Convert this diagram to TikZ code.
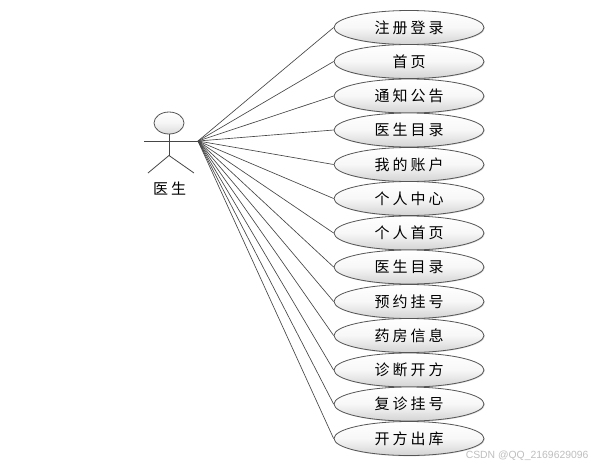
\documentclass[tikz,border=0pt]{standalone}
\usepackage{fontspec}
\usetikzlibrary{shapes.geometric,shadows}
\newfontfamily\cjk[LetterSpace=20]{Noto Sans CJK SC}
\newfontfamily\cjkplain{Noto Sans CJK SC}
\newfontfamily\wmfont{Liberation Sans}
\definecolor{edgegray}{RGB}{85,85,85}
\definecolor{inkline}{RGB}{70,70,70}
\tikzset{
  usecase/.style={ellipse,draw=edgegray,line width=0.8pt,minimum width=150pt,minimum height=34pt,inner sep=0pt,
    top color=white,bottom color=black!17,middle color=black!3,
    drop shadow={shadow xshift=0.8pt,shadow yshift=-0.8pt,fill=black!30,opacity=0.45},
    font=\cjk\fontsize{15}{15}\selectfont},
  actorhead/.style={ellipse,draw=edgegray,line width=0.8pt,minimum width=30pt,minimum height=22pt,inner sep=0pt,
    top color=white,bottom color=black!14,middle color=black!4},
  link/.style={draw=inkline,line width=0.65pt},
  actorline/.style={draw=inkline,line width=0.8pt},
}
\begin{document}
\begin{tikzpicture}[x=1pt,y=-1pt]
\useasboundingbox (0,0) rectangle (607,467);
\fill[white] (0,0) rectangle (607,467);
% actor
\node[actorhead] (head) at (169,123) {};
\coordinate (lefthand) at (144,141);
\coordinate (hand) at (198,141);
\coordinate (crotch) at (169,155.5);
\coordinate (leftfoot) at (148,173);
\coordinate (rightfoot) at (194,173);
\draw[actorline] (lefthand) -- (hand);
\draw[actorline] (head.south) -- (crotch);
\draw[actorline] (leftfoot) -- (crotch) -- (rightfoot);
\node[font=\cjk\fontsize{15}{15}\selectfont,text=black] (actorlabel) at (169.5,188.5) {医生};
% use cases
\foreach \i/\yy/\txt in {
  1/27.5/注册登录,2/61.5/首页,3/96/通知公告,4/130/医生目录,5/164.5/我的账户,
  6/198.5/个人中心,7/233/个人首页,8/267/医生目录,9/301.5/预约挂号,10/335.5/药房信息,
  11/370/诊断开方,12/404/复诊挂号,13/438.5/开方出库}{
  \node[usecase] (uc\i) at (409,\yy) {\txt};
  \draw[link] (hand) -- (uc\i.west);
}
\node[font=\wmfont\fontsize{10.4}{11}\selectfont,text=black!25,anchor=east] (wm) at (592,456) {CSDN @QQ\_2169629096};
\end{tikzpicture}
\end{document}
